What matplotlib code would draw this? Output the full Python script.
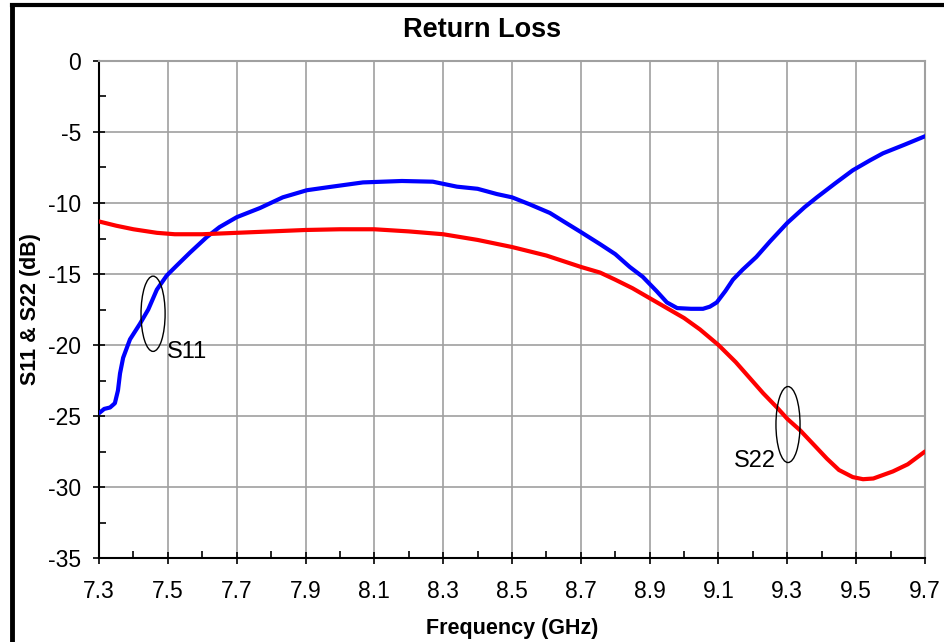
import matplotlib
matplotlib.use("Agg")
import matplotlib.pyplot as plt
from matplotlib.patches import Ellipse
from matplotlib.lines import Line2D
from matplotlib.ticker import MultipleLocator

plt.rcParams['font.family'] = ['Liberation Sans', 'DejaVu Sans']

s11_f = [7.30, 7.315, 7.332, 7.346, 7.355, 7.361, 7.37, 7.39, 7.419, 7.443, 7.468, 7.497,
         7.526, 7.564, 7.613, 7.65, 7.70, 7.768, 7.834, 7.904, 7.971, 8.067, 8.18, 8.27,
         8.34, 8.40, 8.456, 8.50, 8.552, 8.61, 8.65, 8.697, 8.756, 8.80, 8.842, 8.88,
         8.92, 8.95, 8.98, 9.02, 9.055, 9.075, 9.095, 9.12, 9.142, 9.17, 9.21, 9.25,
         9.30, 9.35, 9.386, 9.44, 9.49, 9.54, 9.578, 9.64, 9.70]
s11_db = [-24.8, -24.5, -24.4, -24.1, -23.2, -22.0, -20.9, -19.6, -18.5, -17.5, -16.1, -15.1,
          -14.4, -13.5, -12.4, -11.7, -11.0, -10.35, -9.6, -9.1, -8.87, -8.55, -8.45, -8.5,
          -8.85, -9.0, -9.37, -9.6, -10.1, -10.7, -11.3, -12.0, -12.9, -13.6, -14.5, -15.2,
          -16.2, -17.0, -17.4, -17.45, -17.45, -17.3, -17.0, -16.2, -15.4, -14.7, -13.8, -12.7,
          -11.4, -10.3, -9.6, -8.6, -7.7, -7.0, -6.5, -5.9, -5.3]

s22_f = [7.30, 7.35, 7.40, 7.468, 7.52, 7.60, 7.70, 7.80, 7.90, 8.00, 8.10, 8.20,
         8.30, 8.40, 8.50, 8.60, 8.70, 8.756, 8.80, 8.85, 8.90, 8.95, 9.00, 9.046,
         9.10, 9.15, 9.19, 9.23, 9.27, 9.30, 9.337, 9.38, 9.415, 9.45, 9.49, 9.52,
         9.55, 9.607, 9.65, 9.70]
s22_db = [-11.3, -11.6, -11.85, -12.1, -12.2, -12.2, -12.1, -12.0, -11.9, -11.85, -11.85, -12.0,
          -12.2, -12.6, -13.1, -13.7, -14.5, -14.9, -15.4, -16.0, -16.7, -17.4, -18.1, -18.9,
          -20.0, -21.2, -22.3, -23.4, -24.4, -25.2, -26.0, -27.1, -28.0, -28.8, -29.3, -29.45,
          -29.4, -28.9, -28.4, -27.5]

x_ticks = [7.3, 7.5, 7.7, 7.9, 8.1, 8.3, 8.5, 8.7, 8.9, 9.1, 9.3, 9.5, 9.7]
y_ticks = [0, -5, -10, -15, -20, -25, -30, -35]

fig = plt.figure(figsize=(9.45, 6.42), dpi=100)
ax = fig.add_axes([0.1048, 0.1308, 0.874, 0.7742])

ax.plot(s11_f, s11_db, color='#0000ff', lw=3.0, solid_joinstyle='round', solid_capstyle='round', zorder=3)
ax.plot(s22_f, s22_db, color='#ff0000', lw=3.0, solid_joinstyle='round', solid_capstyle='round', zorder=3)

ax.set_xlim(7.3, 9.7)
ax.set_ylim(-35, 0)
ax.set_xticks(x_ticks)
ax.set_xticklabels([f"{v:.1f}" for v in x_ticks])
ax.set_yticks(y_ticks)
ax.set_yticklabels([str(v) for v in y_ticks])
ax.xaxis.set_minor_locator(MultipleLocator(0.1))
ax.yaxis.set_minor_locator(MultipleLocator(2.5))
ax.grid(True, which='major', color='#a0a0a0', lw=1.2, zorder=0)
ax.set_axisbelow(True)
ax.tick_params(which='major', direction='inout', length=8, width=1.2, labelsize=16.5, color='black')
ax.tick_params(which='minor', direction='in', length=5, width=1.2, color='black')
ax.tick_params(axis='x', which='major', pad=12)
ax.tick_params(axis='y', which='major', pad=9)

for s in ['top', 'right']:
    ax.spines[s].set_color('#a0a0a0')
    ax.spines[s].set_linewidth(1.5)
for s in ['left', 'bottom']:
    ax.spines[s].set_color('black')
    ax.spines[s].set_linewidth(1.5)

fig.text(0.51, 1 - 30 / 642, 'Return Loss', fontsize=19.5, fontweight='bold', ha='center', va='center')
ax.set_xlabel('Frequency (GHz)', fontsize=15.5, fontweight='bold')
ax.set_ylabel('S11 & S22 (dB)', fontsize=15.5, fontweight='bold')
ax.xaxis.set_label_coords(0.5, -0.141)
ax.yaxis.set_label_coords(-0.0835, 0.5)
ax.xaxis.label.set_va('center')
ax.yaxis.label.set_va('center')

ax.add_patch(Ellipse((7.457, -17.8), 0.07, 5.3, fill=False, ec='black', lw=1.0, zorder=4))
ax.add_patch(Ellipse((9.302, -25.6), 0.07, 5.35, fill=False, ec='black', lw=1.0, zorder=4))
ax.text(7.497, -20.5, 'S11', fontsize=17, ha='left', va='center', zorder=5)
ax.text(9.267, -28.2, 'S22', fontsize=17, ha='right', va='center', zorder=5)

# outer frame (top and left edges visible)
fig.add_artist(Line2D([0.0125, 1.0], [0.9925, 0.9925], transform=fig.transFigure, color='black', lw=3.0))
fig.add_artist(Line2D([0.0125, 0.0125], [0.0, 0.9925], transform=fig.transFigure, color='black', lw=3.5))

fig.savefig('out.png', dpi=100)
